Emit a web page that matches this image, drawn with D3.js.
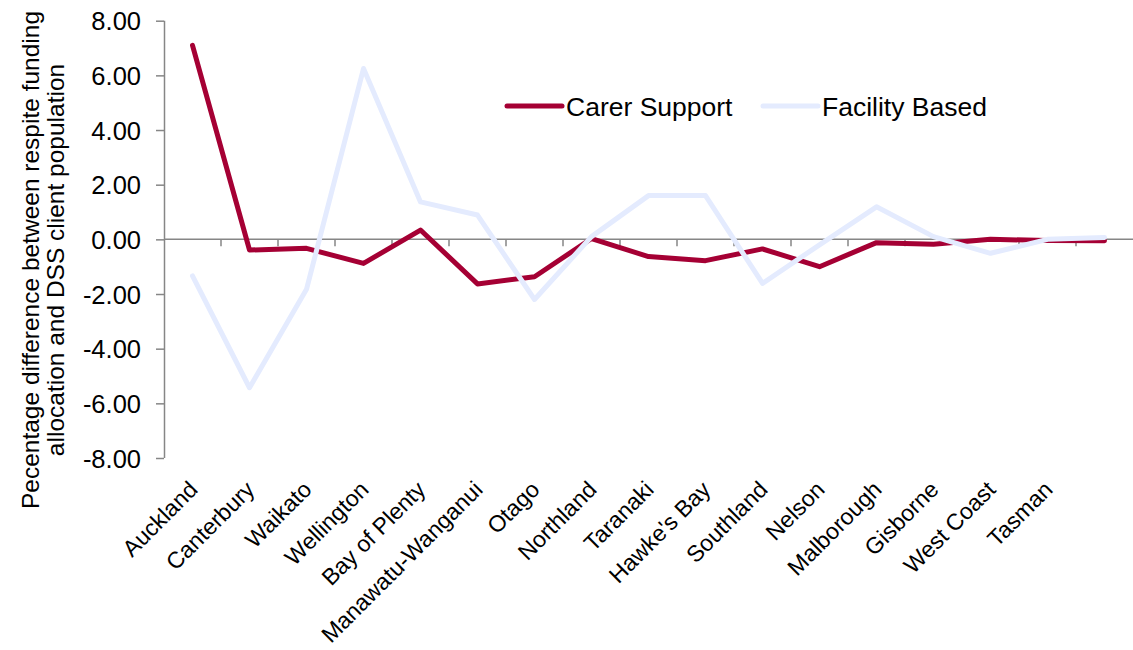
<!DOCTYPE html>
<html>
<head>
<meta charset="utf-8">
<script src="https://cdn.jsdelivr.net/npm/d3@7"></script>
<style>
  body { margin: 0; background: #fff; }
  svg { font-family: "Liberation Sans", Arial, sans-serif; }
</style>
</head>
<body>
<svg id="chart"></svg>
<script>
// Regions (last slot has no label in the original)
var regions = ["Auckland", "Canterbury", "Waikato", "Wellington", "Bay of Plenty",
  "Manawatu-Wanganui", "Otago", "Northland", "Taranaki", "Hawke's Bay", "Southland",
  "Nelson", "Malborough", "Gisborne", "West Coast", "Tasman", ""];

var carerSupport = [7.10, -0.39, -0.33, -0.88, 0.34, -1.63, -1.37, 0.03, -0.63, -0.78,
  -0.35, -1.00, -0.12, -0.18, 0.00, -0.04, -0.05];

var facilityBased = [-1.34, -5.43, -1.83, 6.25, 1.37, 0.89, -2.20, 0.10, 1.60, 1.60,
  -1.61, -0.20, 1.19, 0.10, -0.51, 0.00, 0.07];

var yTicks = [-8, -6, -4, -2, 0, 2, 4, 6, 8];

var seriesNames = ["Carer Support", "Facility Based"];
var seriesColors = ["#A50034", "#E4EBFE"];

var svgWidth = 1133;
var svgHeight = 650;
var margin = { top: 20.7, right: 0, bottom: 192, left: 164 };
var chartWidth = svgWidth - margin.left - margin.right;
var chartHeight = svgHeight - margin.top - margin.bottom;
var axisColor = "#868686";

var svg = d3.select("#chart")
  .attr("width", svgWidth)
  .attr("height", svgHeight);

var chart = svg.append("g")
  .attr("transform", "translate(" + margin.left + "," + margin.top + ")");

var xScale = d3.scaleBand()
  .domain(d3.range(regions.length))
  .range([0, chartWidth]);

var yScale = d3.scaleLinear()
  .domain([-8, 8])
  .range([chartHeight, 0]);

// y axis
var yAxis = chart.append("g")
  .attr("class", "axis")
  .call(d3.axisLeft(yScale).tickValues(yTicks).tickSize(8).tickPadding(15)
    .tickFormat(d3.format(".2f")));
yAxis.select(".domain").attr("stroke", axisColor).attr("stroke-width", 1.5)
  .attr("d", "M0.5," + chartHeight + "V0");
yAxis.selectAll(".tick line").attr("stroke", axisColor).attr("stroke-width", 1.5);
yAxis.selectAll("text")
  .style("font-size", "25.5px")
  .attr("fill", "#000")
  .attr("dy", "0.36em")
  .text(function (d) { return d3.format(".2f")(d).replace("−", "-"); });

// zero line with ticks at band boundaries
var zeroY = yScale(0);
chart.append("line")
  .attr("x1", 0).attr("x2", chartWidth)
  .attr("y1", zeroY).attr("y2", zeroY)
  .attr("stroke", axisColor).attr("stroke-width", 1.5);

chart.selectAll(".xtick")
  .data(d3.range(1, regions.length))
  .enter()
  .append("line")
  .attr("class", "xtick")
  .attr("x1", function (d) { return xScale(d); })
  .attr("x2", function (d) { return xScale(d); })
  .attr("y1", zeroY)
  .attr("y2", zeroY + 7)
  .attr("stroke", axisColor).attr("stroke-width", 1.5);

// category labels under the plot
chart.selectAll(".xlabel")
  .data(regions)
  .enter()
  .append("text")
  .attr("class", "xlabel")
  .attr("text-anchor", "end")
  .attr("transform", function (d, i) {
    var x = xScale(i) + xScale.bandwidth() / 2 + 6.5;
    return "translate(" + x + "," + (chartHeight + 33) + ") rotate(-45)";
  })
  .style("font-size", "23px")
  .text(function (d) { return d; });

// lines
var line = d3.line()
  .x(function (d, i) { return xScale(i) + xScale.bandwidth() / 2; })
  .y(function (d) { return yScale(d); });

[carerSupport, facilityBased].forEach(function (values, k) {
  chart.append("path")
    .datum(values)
    .attr("fill", "none")
    .attr("stroke", seriesColors[k])
    .attr("stroke-width", 5)
    .attr("stroke-linecap", "round")
    .attr("stroke-linejoin", "round")
    .attr("d", line);
});

// legend
var legendX = [507, 763];
seriesNames.forEach(function (name, k) {
  var g = svg.append("g").attr("transform", "translate(" + legendX[k] + ",106)");
  g.append("line")
    .attr("x1", 0).attr("x2", 55)
    .attr("y1", 0).attr("y2", 0)
    .attr("stroke", seriesColors[k])
    .attr("stroke-width", 5)
    .attr("stroke-linecap", "round");
  g.append("text")
    .attr("x", 59)
    .attr("dy", "0.36em")
    .style("font-size", "26.5px")
    .text(name);
});

// y axis title
var title = svg.append("text")
  .attr("transform", "translate(39,260) rotate(-90)")
  .attr("text-anchor", "middle")
  .style("font-size", "24.5px");
title.append("tspan").attr("x", 0).attr("dy", 0)
  .text("Pecentage difference between respite funding");
title.append("tspan").attr("x", 0).attr("dy", 25)
  .text("allocation and DSS client population");
</script>
</body>
</html>
